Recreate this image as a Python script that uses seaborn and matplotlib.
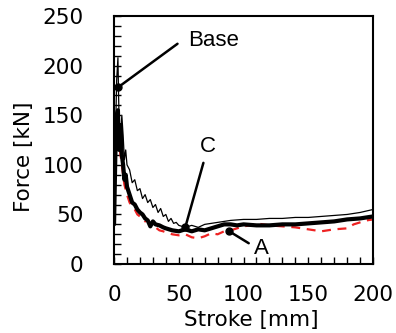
import matplotlib
matplotlib.use('Agg')
import matplotlib.pyplot as plt
import seaborn as sns
from matplotlib.ticker import MultipleLocator

# stroke [mm] / force [kN]
base_x = [0, 1, 2, 3, 3.5, 4, 5, 6, 7, 8, 9, 10, 12, 14, 16, 18, 20, 22, 24, 26, 28, 30,
          32, 34, 36, 38, 40, 42, 44, 46, 48, 50, 55, 60, 65, 70, 75, 80, 90, 100, 110,
          120, 130, 140, 150, 160, 170, 180, 190, 200]
base_y = [40, 120, 185, 208, 170, 140, 125, 150, 130, 105, 115, 100, 95, 82, 85, 74, 76, 66,
          70, 62, 65, 57, 60, 52, 56, 48, 50, 43, 46, 41, 42, 39, 37, 39, 37, 40, 41, 42, 44,
          45, 45, 46, 46, 47, 47, 48, 49, 50, 52, 55]

c_x = [0, 1, 2, 3, 3.5, 4, 5, 6, 7, 8, 9, 10, 12, 14, 16, 18, 20, 22, 24, 26, 28, 30, 32,
       35, 38, 40, 45, 50, 55, 60, 65, 70, 75, 80, 85, 90, 95, 100, 110, 120, 130, 140, 150,
       160, 170, 180, 190, 200]
c_y = [40, 110, 150, 155, 130, 115, 140, 110, 100, 85, 90, 78, 70, 62, 60, 55, 52, 50, 46,
       44, 38, 43, 40, 39, 37, 36, 34, 33, 35, 33, 35, 34, 36, 38, 40, 40, 39, 40, 39, 39,
       40, 40, 41, 42, 43, 45, 46, 48]

a_x = [0, 1, 2, 3, 4, 5, 6, 7, 8, 10, 12, 14, 16, 18, 20, 22, 24, 26, 28, 30, 32, 35, 38,
       40, 45, 50, 55, 60, 65, 70, 75, 80, 85, 90, 95, 100, 105, 110, 115, 120, 130, 140,
       150, 160, 170, 180, 185, 190, 195, 200]
a_y = [40, 100, 140, 148, 120, 110, 100, 90, 80, 70, 62, 58, 55, 50, 48, 46, 43, 44, 40, 38,
       37, 34, 33, 32, 30, 29, 30, 27, 26, 28, 31, 30, 33, 34, 36, 38, 39, 41, 40, 39, 38,
       37, 35, 33, 35, 36, 40, 42, 44, 45]

sns.set_style('ticks')
plt.rcParams.update({'text.color': 'black', 'axes.labelcolor': 'black',
                     'xtick.color': 'black', 'ytick.color': 'black',
                     'font.family': ['DejaVu Sans']})
fig = plt.figure(figsize=(3.96, 3.33), dpi=100)
ax = fig.add_axes([0.288, 0.207, 0.654, 0.745])

sns.lineplot(x=base_x, y=base_y, ax=ax, color='black', lw=0.9)
sns.lineplot(x=a_x, y=a_y, ax=ax, color='#ee2222', lw=1.6, linestyle=(0, (4, 3)))
sns.lineplot(x=c_x, y=c_y, ax=ax, color='black', lw=3)

ax.set_xlim(0, 200)
ax.set_ylim(0, 250)
ax.xaxis.set_major_locator(MultipleLocator(50))
ax.yaxis.set_major_locator(MultipleLocator(50))
ax.xaxis.set_minor_locator(MultipleLocator(10))
ax.yaxis.set_minor_locator(MultipleLocator(10))
ax.tick_params(which='both', direction='in', length=5, width=1, color='black',
               top=False, right=False)
ax.tick_params(axis='y', which='major', pad=22, labelsize=15.5)
ax.tick_params(axis='x', which='major', pad=15, labelsize=15.5)
for s in ax.spines.values():
    s.set_visible(True)
    s.set_color('black')
    s.set_linewidth(1.5)

ax.set_xlabel('Stroke [mm]', fontsize=15.5)
ax.set_ylabel('Force [kN]', fontsize=15.5)
ax.xaxis.set_label_coords(0.529, -0.185)
ax.yaxis.set_label_coords(-0.31, 0.432)

lab = dict(fontsize=16, family='Liberation Sans', ha='center', va='center')
line = dict(arrowstyle='-', color='black', lw=1.8, shrinkA=0, shrinkB=0)
ax.plot([3, 55, 89], [178, 37, 33], 'o', color='black', ms=5)
ax.annotate('', xy=(3, 178), xytext=(49, 222), arrowprops=line)
ax.text(76.5, 225, 'Base', **lab)
ax.annotate('', xy=(55, 37), xytext=(69, 102), arrowprops=line)
ax.text(72.6, 118, 'C', **lab)
ax.annotate('', xy=(89, 33), xytext=(104, 21), arrowprops=line)
ax.text(113.5, 16, 'A', **lab)

fig.savefig('out.png', dpi=100)
